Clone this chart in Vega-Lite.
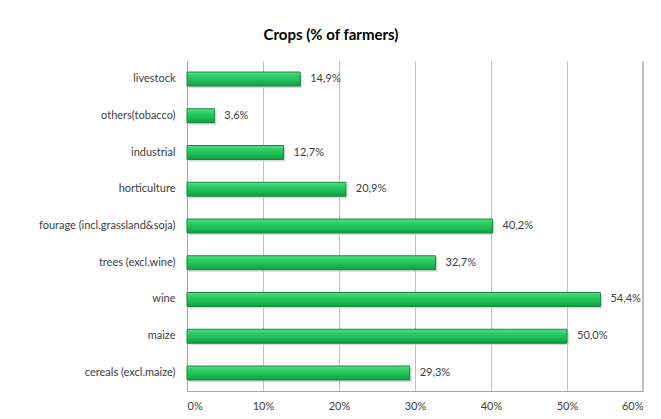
{
  "$schema": "https://vega.github.io/schema/vega-lite/v6.json",
  "autosize": {"type": "none"},
  "width": 456,
  "height": 330,
  "padding": {"left": 187, "top": 61, "right": 18, "bottom": 28},
  "background": "white",
  "config": {
    "locale": {"number": {"decimal": ",", "thousands": ".", "grouping": [3], "currency": ["", "€"]}},
    "font": "Lato",
    "view": {"stroke": null}
  },
  "title": {
    "text": "Crops (% of farmers)",
    "fontSize": 15,
    "fontWeight": "bold",
    "font": "Lato",
    "color": "#000000",
    "anchor": "middle",
    "frame": "group",
    "dx": -84,
    "offset": 18
  },
  "data": {
    "values": [
      {"crop": "livestock", "share": 0.149},
      {"crop": "others(tobacco)", "share": 0.036},
      {"crop": "industrial", "share": 0.127},
      {"crop": "horticulture", "share": 0.209},
      {"crop": "fourage (incl.grassland&soja)", "share": 0.402},
      {"crop": "trees (excl.wine)", "share": 0.327},
      {"crop": "wine", "share": 0.544},
      {"crop": "maize", "share": 0.5},
      {"crop": "cereals (excl.maize)", "share": 0.293}
    ]
  },
  "encoding": {
    "y": {
      "field": "crop",
      "type": "nominal",
      "sort": null,
      "scale": {"paddingInner": 0.62, "paddingOuter": 0.3},
      "axis": {
        "title": null,
        "ticks": false,
        "domain": true,
        "domainColor": "#a6a6a6",
        "labelFontSize": 11,
        "labelColor": "#404040",
        "labelPadding": 12,
        "labelFont": "Lato"
      }
    },
    "x": {
      "field": "share",
      "type": "quantitative",
      "scale": {"domain": [0, 0.6], "nice": false},
      "axis": {
        "title": null,
        "format": ".0%",
        "values": [0, 0.1, 0.2, 0.3, 0.4, 0.5, 0.6],
        "grid": true,
        "gridColor": "#bfbfbf",
        "domainColor": "#a6a6a6",
        "ticks": false,
        "labelFontSize": 11,
        "labelColor": "#404040",
        "labelPadding": 9,
        "labelFont": "Lato"
      }
    }
  },
  "layer": [
    {
      "mark": {
        "type": "bar",
        "xOffset": 2,
        "yOffset": 2,
        "color": "#d0d0d0",
        "opacity": 0.8
      }
    },
    {
      "mark": {
        "type": "bar",
        "stroke": "#168a3c",
        "strokeWidth": 1,
        "color": {
          "gradient": "linear",
          "x1": 0, "y1": 0, "x2": 0, "y2": 1,
          "stops": [
            {"offset": 0, "color": "#5fe08a"},
            {"offset": 0.25, "color": "#2fd068"},
            {"offset": 0.6, "color": "#1fbf58"},
            {"offset": 1, "color": "#159a44"}
          ]
        }
      }
    },
    {
      "mark": {
        "type": "text",
        "align": "left",
        "dx": 10,
        "fontSize": 11,
        "color": "#404040",
        "font": "Lato"
      },
      "encoding": {
        "text": {"field": "share", "type": "quantitative", "format": ".1%"}
      }
    },
    {
      "mark": {"type": "rule", "color": "#bfbfbf"},
      "encoding": {
        "x": {"datum": 0.6},
        "y": null
      }
    }
  ]
}
